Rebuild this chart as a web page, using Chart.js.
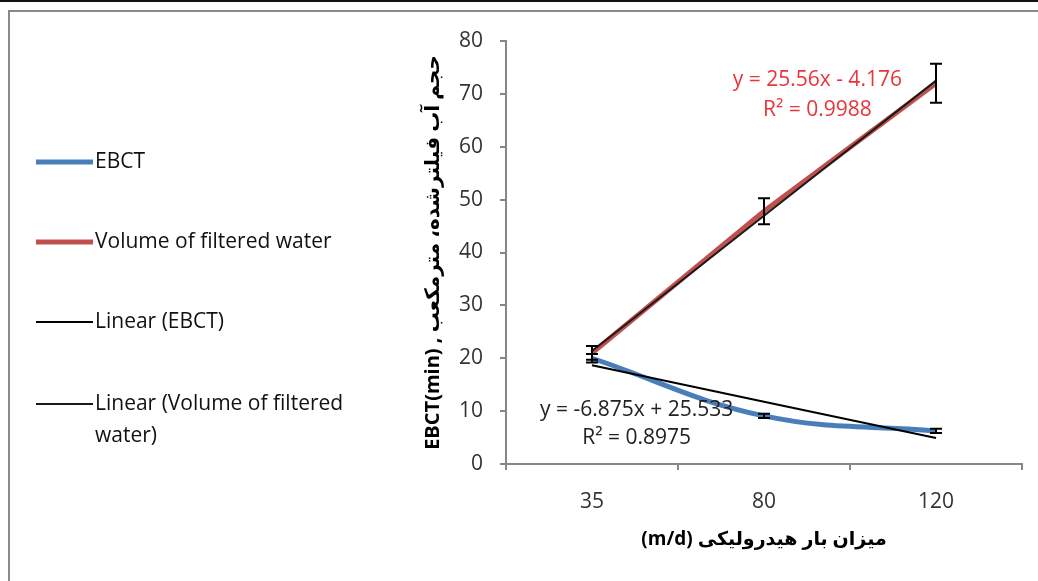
<!DOCTYPE html>
<html lang="fa">
<head>
<meta charset="UTF-8">
<script src="https://cdn.jsdelivr.net/npm/chart.js"></script>
<title>EBCT و حجم آب فیلترشده</title>
<style>
    body { margin: 0; background: #fff; overflow: hidden; }
    #box { position: relative; width: 1038px; height: 581px; }
</style>
</head>
<body>
<div id="box"><canvas id="graficoFiltro"></canvas></div>
<script>
// hydraulic load (m/d)
const cargas = ['35', '80', '120'];

// measured series
const ebct = [20, 9.1, 6.25];
const volume = [21, 47.8, 72];

// error bar half-heights
const ebctErr = [0.8, 0.4, 0.4];
const volumeErr = [1.3, 2.45, 3.7];

// linear trend values at each category (from the fitted equations)
const ebctFit = [18.66, 11.78, 4.91];
const volumeFit = [21.38, 46.94, 72.50];

// fitted equation labels
const ebctEq = ['y = -6.875x + 25.533', 'R² = 0.8975'];
const volumeEq = ['y = 25.56x - 4.176', 'R² = 0.9988'];

// y axis
const yMin = 0, yMax = 80, yStep = 10;

const FONT = "'Open Sans', 'DejaVu Sans', sans-serif";
const AXIS = '#868686';

// white background + frame lines
const fundo = {
    id: 'fundo',
    beforeDraw(chart) {
        const c = chart.ctx;
        c.save();
        c.fillStyle = '#fff';
        c.fillRect(0, 0, chart.width, chart.height);
        c.fillStyle = '#111';
        c.fillRect(0, 0, chart.width, 2);
        c.fillStyle = '#8a8a8a';
        c.fillRect(8, 10, chart.width - 8, 2);
        c.fillRect(8, 10, 2, chart.height - 10);
        c.restore();
    }
};

// vertical error bars with caps
const barrasErro = {
    id: 'barrasErro',
    afterDatasetsDraw(chart) {
        const c = chart.ctx;
        const y = chart.scales.y;
        chart.data.datasets.forEach((ds, i) => {
            if (!ds.erros) return;
            const meta = chart.getDatasetMeta(i);
            c.save();
            c.strokeStyle = '#000';
            c.lineWidth = 2;
            meta.data.forEach((pt, j) => {
                const v = ds.data[j];
                const e = ds.erros[j];
                const top = y.getPixelForValue(v + e);
                const bot = y.getPixelForValue(v - e);
                c.beginPath();
                c.moveTo(pt.x, top); c.lineTo(pt.x, bot);
                c.moveTo(pt.x - 6, top); c.lineTo(pt.x + 6, top);
                c.moveTo(pt.x - 6, bot); c.lineTo(pt.x + 6, bot);
                c.stroke();
            });
            c.restore();
        });
    }
};

// equation labels next to the trend lines
const equacoes = {
    id: 'equacoes',
    afterDatasetsDraw(chart) {
        const c = chart.ctx;
        const x = chart.scales.x, y = chart.scales.y;
        c.save();
        c.font = '21px ' + FONT;
        c.textAlign = 'center';
        c.textBaseline = 'middle';
        c.fillStyle = '#e8353b';
        c.fillText(volumeEq[0], x.getPixelForValue(1.31), y.getPixelForValue(72.6));
        c.fillText(volumeEq[1], x.getPixelForValue(1.31), y.getPixelForValue(67));
        c.fillStyle = '#222';
        c.fillText(ebctEq[0], x.getPixelForValue(0.26), y.getPixelForValue(10.2));
        c.fillText(ebctEq[1], x.getPixelForValue(0.26), y.getPixelForValue(4.9));
        c.restore();
    }
};

// legend on the left side, long labels wrapped
const legenda = {
    id: 'legenda',
    afterDraw(chart) {
        const c = chart.ctx;
        const linhas = [162, 242, 322, 404];
        c.save();
        c.font = '21px ' + FONT;
        c.textBaseline = 'middle';
        c.textAlign = 'left';
        chart.data.datasets.forEach((ds, i) => {
            const yy = linhas[i];
            c.strokeStyle = ds.borderColor;
            c.lineWidth = ds.borderWidth;
            c.beginPath();
            c.moveTo(36, yy); c.lineTo(93, yy);
            c.stroke();
            c.fillStyle = '#111';
            const palavras = ds.label.split(' ');
            let linha = '', ly = yy;
            palavras.forEach(p => {
                const teste = linha ? linha + ' ' + p : p;
                if (c.measureText(teste).width > 285 && linha) {
                    c.fillText(linha, 95, ly);
                    linha = p;
                    ly += 32;
                } else {
                    linha = teste;
                }
            });
            c.fillText(linha, 95, ly);
        });
        c.restore();
    }
};

const ctx = document.getElementById('graficoFiltro').getContext('2d');

new Chart(ctx, {
    type: 'line',
    data: {
        labels: cargas,
        datasets: [
            {
                label: 'EBCT',
                data: ebct,
                erros: ebctErr,
                borderColor: '#4a7ebb',
                borderWidth: 5,
                tension: 0.4,
                pointRadius: 0,
                order: 2
            },
            {
                label: 'Volume of filtered water',
                data: volume,
                erros: volumeErr,
                borderColor: '#c0504d',
                borderWidth: 5,
                pointRadius: 0,
                order: 2
            },
            {
                label: 'Linear (EBCT)',
                data: ebctFit,
                borderColor: '#000',
                borderWidth: 2,
                pointRadius: 0,
                order: 1
            },
            {
                label: 'Linear (Volume of filtered water)',
                data: volumeFit,
                borderColor: '#1a1a1a',
                borderWidth: 2,
                pointRadius: 0,
                order: 1
            }
        ]
    },
    options: {
        responsive: true,
        maintainAspectRatio: false,
        animation: false,
        layout: { padding: { left: 417, right: 16, top: 41, bottom: 0 } },
        plugins: {
            legend: { display: false },
            tooltip: { enabled: false }
        },
        scales: {
            x: {
                offset: true,
                grid: {
                    offset: true,
                    drawOnChartArea: false,
                    color: AXIS,
                    lineWidth: 2,
                    tickLength: 6
                },
                border: { color: AXIS, width: 2 },
                ticks: { color: '#333', padding: 19, font: { family: FONT, size: 21 } },
                title: {
                    display: true,
                    text: '\u200E(m/d)\u200E میزان بار هیدرولیکی',
                    color: '#000',
                    padding: { top: 4, bottom: 30 },
                    font: { family: FONT, size: 19, weight: 'bold' }
                },
                afterFit(scale) { scale.height = 117; }
            },
            y: {
                min: yMin,
                max: yMax,
                ticks: { stepSize: yStep, color: '#333', padding: 17, font: { family: FONT, size: 21 } },
                grid: {
                    drawOnChartArea: false,
                    color: AXIS,
                    lineWidth: 2,
                    tickLength: 6
                },
                border: { color: AXIS, width: 2 },
                title: {
                    display: true,
                    text: 'EBCT(min) , حجم آب فیلترشده، مترمکعب',
                    color: '#000',
                    padding: { top: 4, bottom: 4 },
                    font: { family: FONT, size: 20, weight: 'bold' }
                },
                afterFit(scale) { scale.width = 89; }
            }
        }
    },
    plugins: [fundo, barrasErro, equacoes, legenda]
});
</script>
</body>
</html>
